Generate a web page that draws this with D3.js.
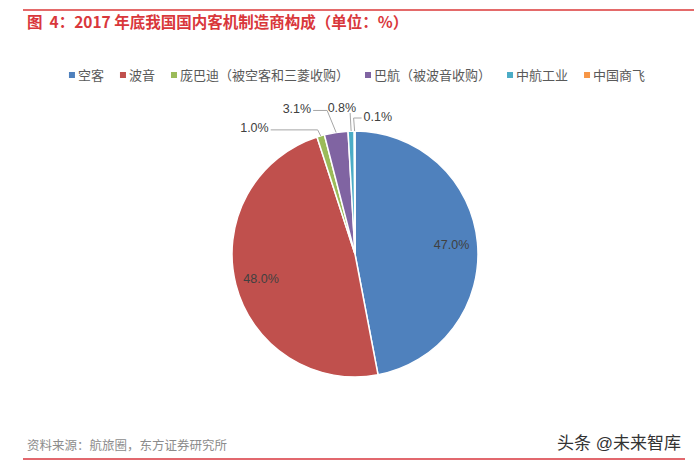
<!DOCTYPE html>
<html>
<head>
<meta charset="utf-8">
<script src="https://cdn.jsdelivr.net/npm/d3@7"></script>
<style>
  html, body { margin: 0; padding: 0; background: #fff; }
  svg { display: block; }
  text { font-family: "Liberation Sans", "Noto Sans CJK SC", sans-serif; }
</style>
</head>
<body>
<svg id="chart" width="694" height="470"></svg>
<script>
// ---- data ----
const categories = ["空客", "波音", "庞巴迪（被空客和三菱收购）", "巴航（被波音收购）", "中航工业", "中国商飞"];
const shares = [47.0, 48.0, 1.0, 3.1, 0.8, 0.1];
const shareLabels = ["47.0%", "48.0%", "1.0%", "3.1%", "0.8%", "0.1%"];
const colors = ["#4F81BD", "#C0504D", "#9BBB59", "#8064A2", "#4BACC6", "#F79646"];
const titleText = "图  4：2017 年底我国国内客机制造商构成（单位：%）";
const sourceText = "资料来源：航旅圈，东方证券研究所";
const watermarkText = "头条 @未来智库";

// ---- layout ----
const W = 694, H = 470;
const cx = 355, cy = 254, R = 123;
const svg = d3.select("#chart");

// top rule and title
svg.append("line").attr("x1", 23).attr("x2", W).attr("y1", 10).attr("y2", 10)
  .attr("stroke", "#E46A6A").attr("stroke-width", 2);
svg.append("text").attr("x", 27).attr("y", 28)
  .attr("font-size", 15.5).attr("font-weight", "bold").attr("fill", "#D9373B")
  .style("font-family", "'Noto Sans CJK SC', sans-serif")
  .attr("xml:space", "preserve").style("white-space", "pre")
  .text(titleText);

// legend
const legend = svg.append("g").attr("transform", "translate(0,75)");
const items = legend.selectAll("g").data(categories).join("g");
items.append("rect").attr("width", 6).attr("height", 6).attr("y", -3)
  .attr("fill", (d, i) => colors[i]);
items.append("text").attr("x", 9).attr("dy", "0.36em")
  .attr("font-size", 13).attr("fill", "#595959").text(d => d);
let xpos = 0; const gap = 16; const offs = [];
items.each(function () {
  offs.push(xpos);
  const w = this.querySelector("text").getComputedTextLength() + 9;
  xpos += w + gap;
});
const total = xpos - gap;
const startX = 357 - total / 2;
items.attr("transform", (d, i) => `translate(${startX + offs[i]},0)`);

// pie
const pie = d3.pie().sort(null).value(d => d)(shares);
const arc = d3.arc().innerRadius(0).outerRadius(R);
const g = svg.append("g").attr("transform", `translate(${cx},${cy})`);
g.selectAll("path").data(pie).join("path")
  .attr("d", arc)
  .attr("fill", (d, i) => colors[i])
  .attr("stroke", "#fff").attr("stroke-width", 1.5);

// inner labels for large slices
const labelArc = d3.arc().innerRadius(97).outerRadius(97);
const inner = pie.filter(d => d.value >= 10);
g.selectAll("text.inner").data(inner).join("text")
  .attr("class", "inner")
  .attr("transform", d => { const c = labelArc.centroid(d); return `translate(${c[0]},${c[1]})`; })
  .attr("text-anchor", "middle").attr("dy", "0.36em")
  .attr("font-size", 12.5).attr("fill", "#404040")
  .text(d => shareLabels[d.index]);

// outer labels with leader lines for small slices (label placement offsets)
const outerLayout = {
  2: { dx: -52, dy: -8, anchor: "end", ex: -3, end: "h" },
  3: { dx: -25, dy: -24, anchor: "end", ex: -9, end: "h" },
  4: { dx: 5, dy: -24, anchor: "end", ex: -1, end: "v" },
  5: { dx: 9, dy: -15, anchor: "start", ex: -1, end: "h" }
};
pie.filter(d => d.value < 10).forEach(d => {
  const L = outerLayout[d.index];
  const a = (d.startAngle + d.endAngle) / 2;
  const e = [R * Math.sin(a), -R * Math.cos(a)];
  const lx = e[0] + L.dx, ly = e[1] + L.dy;
  const elbow = [e[0] + L.ex, L.end === "v" ? ly + 6 : ly + 2];
  const pts = [e, elbow];
  if (L.end === "h") pts.push([L.anchor === "end" ? lx + 2 : lx - 2, ly + 2]);
  g.append("polyline")
    .attr("points", pts.map(p => p.join(",")).join(" "))
    .attr("fill", "none").attr("stroke", "#A6A6A6").attr("stroke-width", 1);
  g.append("text").attr("x", lx).attr("y", ly).attr("dy", "0.36em")
    .attr("text-anchor", L.anchor)
    .attr("font-size", 12.5).attr("fill", "#404040")
    .text(shareLabels[d.index]);
});

// footer
svg.append("text").attr("x", 27).attr("y", 450)
  .attr("font-size", 12.5).attr("fill", "#8C8C8C").text(sourceText);
svg.append("text").attr("x", 681).attr("y", 449).attr("text-anchor", "end")
  .attr("font-size", 17).attr("fill", "#333").text(watermarkText);
svg.append("line").attr("x1", 23).attr("x2", 685).attr("y1", 459).attr("y2", 459)
  .attr("stroke", "#D9363E").attr("stroke-width", 1.5);
</script>
</body>
</html>
